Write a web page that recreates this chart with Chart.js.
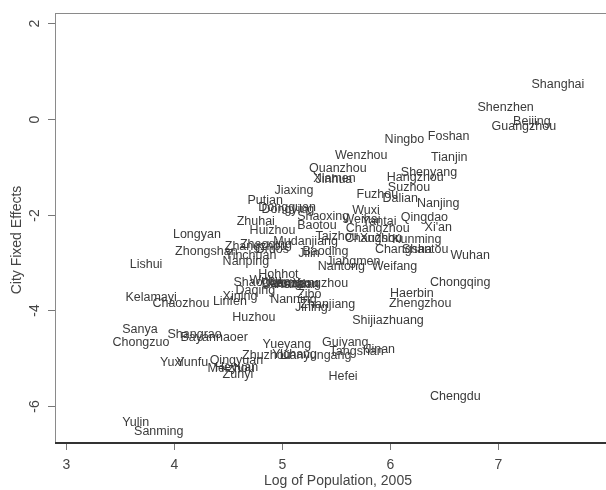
<!DOCTYPE html>
<html lang="en">
<head>
<meta charset="UTF-8">
<title>City Fixed Effects vs Log of Population</title>
<style>
    * { margin: 0; padding: 0; box-sizing: border-box; }
    body { background: #ffffff; }
    #wrap { width: 606px; height: 490px; }
</style>
</head>
<body>
<div id="wrap"><canvas id="chart" width="606" height="490"></canvas></div>

<script src="https://cdn.jsdelivr.net/npm/chart.js"></script>
<script>
    // data
    const cities = ['Shanghai','Shenzhen','Beijing','Guangzhou','Ningbo','Foshan','Tianjin','Shenyang','Hangzhou',
        'Wenzhou','Quanzhou','Xiamen','Jinhua','Jiaxing','Putian','Dongguan','Dongying','Zhuhai','Huizhou',
        'Shaoxing','Baotou','Wuxi','Fuzhou','Weihai','Yantai','Taizhou','Changzhou','Changshu','Xuzhou',
        'Kunming','Changsha','Shantou','Wuhan',"Xi'an",'Qingdao','Nanjing','Dalian','Suzhou','Weifang',
        'Nantong','Jiangmen','Mudanjiang','Zhangzhou','Zhaoqing','Zhongshan','Ordos','Yinchuan','Nanping',
        'Jilin','Baoding','Hohhot','Yangzhou','Shaoguan','Wuhu','Anshan','Datong','Lanzhou','Handan',
        'Daqing','Xining','Linfen','Nanning','Zibo','Jining','Zhanjiang','Huzhou','Kelamayi','Chaozhou',
        'Lishui','Longyan','Haerbin','Zhengzhou','Shijiazhuang','Chongqing','Sanya','Chongzuo','Shangrao',
        'Bayannaoer','Yueyang','Zhuzhou','Yichang','Lianyungang','Guiyang','Tangshan','Jinan','Hefei',
        'Chengdu','Yuxi','Yunfu','Qingyuan','Meizhou','Heyuan','Zunyi','Yulin','Sanming'];

    const logPop = [7.31,6.81,7.14,6.94,5.95,6.35,6.38,6.10,5.97,
        5.49,5.25,5.29,5.31,4.93,4.68,4.78,4.81,4.58,4.70,
        5.14,5.14,5.65,5.69,5.56,5.74,5.31,5.59,5.58,5.72,
        6.02,5.86,6.11,6.56,6.32,6.10,6.25,5.93,5.98,5.83,
        5.33,5.41,4.92,4.47,4.61,4.01,4.75,4.47,4.45,
        5.15,5.19,4.78,5.10,4.55,4.70,4.87,4.81,4.89,4.94,
        4.57,4.45,4.36,4.89,5.14,5.12,5.17,4.54,3.55,3.80,
        3.59,3.99,6.00,5.99,5.65,6.37,3.52,3.43,3.94,
        4.06,4.82,4.63,4.91,4.98,5.37,5.44,5.77,5.43,
        6.37,3.87,4.02,4.33,4.31,4.38,4.45,3.52,3.63];

    const fixedEffects = [0.71,0.23,-0.05,-0.17,-0.44,-0.36,-0.80,-1.13,-1.22,
        -0.76,-1.03,-1.24,-1.26,-1.49,-1.70,-1.86,-1.90,-2.15,-2.34,
        -2.05,-2.22,-1.92,-1.59,-2.11,-2.15,-2.45,-2.30,-2.51,-2.51,
        -2.53,-2.72,-2.74,-2.86,-2.28,-2.07,-1.76,-1.67,-1.44,-3.09,
        -3.09,-2.99,-2.57,-2.66,-2.63,-2.78,-2.74,-2.86,-2.99,
        -2.82,-2.78,-3.26,-3.43,-3.41,-3.37,-3.47,-3.43,-3.43,-3.47,
        -3.59,-3.72,-3.82,-3.78,-3.66,-3.95,-3.87,-4.14,-3.74,-3.85,
        -3.05,-2.41,-3.64,-3.85,-4.22,-3.41,-4.41,-4.68,-4.51,
        -4.56,-4.72,-4.95,-4.93,-4.95,-4.68,-4.87,-4.81,-5.39,
        -5.81,-5.08,-5.08,-5.04,-5.22,-5.20,-5.35,-6.35,-6.54];

    const xTicks = [3, 4, 5, 6, 7];
    const yTicks = [-6, -4, -2, 0, 2];

    const points = cities.map((c, i) => ({ x: logPop[i], y: fixedEffects[i] }));

    // draws the frame, ticks, titles and the city names
    const stataLook = {
        id: 'stataLook',
        afterDatasetsDraw(chart) {
            const ctx = chart.ctx;
            const a = chart.chartArea;
            const xs = chart.scales.x;
            const ys = chart.scales.y;
            ctx.save();

            // frame
            ctx.strokeStyle = '#8a8a8a';
            ctx.lineWidth = 1;
            ctx.strokeRect(a.left + 0.5, a.top + 0.5, a.right - a.left, a.bottom - a.top);
            ctx.strokeStyle = '#333';
            ctx.lineWidth = 2;
            ctx.beginPath();
            ctx.moveTo(a.left, a.bottom);
            ctx.lineTo(a.right, a.bottom);
            ctx.stroke();

            // tick marks and labels
            ctx.strokeStyle = '#777';
            ctx.lineWidth = 1;
            ctx.fillStyle = '#444';
            ctx.font = '14px "Liberation Sans", Arial, sans-serif';
            ctx.textAlign = 'center';
            ctx.textBaseline = 'middle';
            xTicks.forEach(t => {
                const px = Math.round(xs.getPixelForValue(t)) + 0.5;
                ctx.beginPath();
                ctx.moveTo(px, a.bottom + 1);
                ctx.lineTo(px, a.bottom + 7);
                ctx.stroke();
                ctx.fillText(String(t), px, a.bottom + 22);
            });
            yTicks.forEach(t => {
                const py = Math.round(ys.getPixelForValue(t)) + 0.5;
                ctx.beginPath();
                ctx.moveTo(a.left - 7, py);
                ctx.lineTo(a.left, py);
                ctx.stroke();
                ctx.save();
                ctx.translate(a.left - 20, py);
                ctx.rotate(-Math.PI / 2);
                ctx.fillText(String(t), 0, 0);
                ctx.restore();
            });

            // axis titles
            ctx.fillText('Log of Population, 2005', 338, 481);
            ctx.save();
            ctx.translate(17, 240);
            ctx.rotate(-Math.PI / 2);
            ctx.fillText('City Fixed Effects', 0, 0);
            ctx.restore();

            // city names, placed to the right of each point
            ctx.fillStyle = '#3a3a3a';
            ctx.font = '12.5px "Liberation Sans", Arial, sans-serif';
            ctx.textAlign = 'left';
            ctx.beginPath();
            ctx.rect(a.left, a.top, a.right - a.left, a.bottom - a.top);
            ctx.clip();
            cities.forEach((c, i) => {
                const px = xs.getPixelForValue(logPop[i]);
                const py = ys.getPixelForValue(fixedEffects[i]);
                ctx.fillText(c, px, py);
            });
            ctx.restore();
        }
    };

    new Chart(document.getElementById('chart').getContext('2d'), {
        type: 'scatter',
        data: {
            datasets: [{
                label: 'City fixed effects',
                data: points,
                pointRadius: 0,
                pointHoverRadius: 0
            }]
        },
        options: {
            responsive: false,
            animation: false,
            events: [],
            layout: { padding: { left: 55, top: 13, right: 0, bottom: 47 } },
            plugins: { legend: { display: false }, tooltip: { enabled: false } },
            scales: {
                x: { type: 'linear', min: 2.898, max: 8.0, display: false },
                y: { type: 'linear', min: -6.77, max: 2.21, display: false }
            }
        },
        plugins: [stataLook]
    });
</script>
</body>
</html>
